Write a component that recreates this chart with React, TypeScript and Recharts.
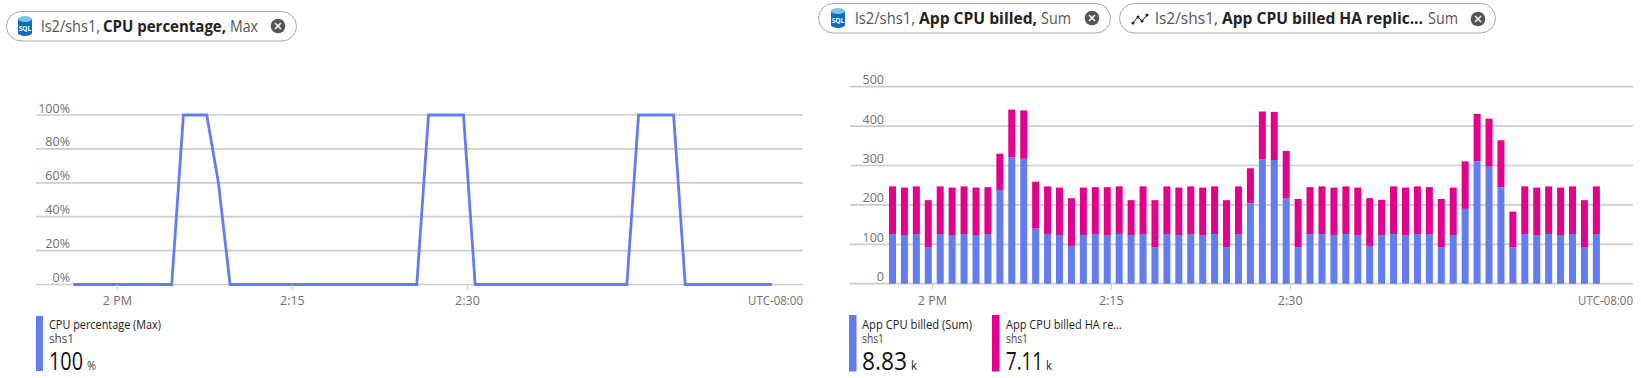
import React from "react";
import { LineChart, Line, BarChart, Bar, XAxis, YAxis, CartesianGrid } from "recharts";

const FONT = "'Open Sans', 'Noto Sans', sans-serif";
const BLUE = "#637cef";
const PINK = "#e3008c";
const GRID = "#cccccc";
const TICK = "#6f6f6f";

// minutes relative to 2 PM
const cpuMinutes = [-3.77, 4.66, 5.66, 7.66, 8.66, 9.66, 25.66, 26.66, 29.66, 30.66, 43.66, 44.66, 47.66, 48.66, 56.07];
const cpuValues = [0, 0, 100, 100, 60, 0, 0, 100, 100, 0, 0, 100, 100, 0, 0];
const cpuTicks = [0, 20, 40, 60, 80, 100];

const billedTicks = [0, 100, 200, 300, 400, 500];
const timeTicks = [0, 15, 30];
const timeLabels = ["2 PM", "2:15", "2:30"];

const billedMinutes = [
  -3.3, -2.3, -1.3, -0.3, 0.7, 1.7, 2.7, 3.7, 4.7, 5.7, 6.7, 7.7, 8.7, 9.7, 10.7, 11.7, 12.7, 13.7, 14.7, 15.7,
  16.7, 17.7, 18.7, 19.7, 20.7, 21.7, 22.7, 23.7, 24.7, 25.7, 26.7, 27.7, 28.7, 29.7, 30.7, 31.7, 32.7, 33.7, 34.7, 35.7,
  36.7, 37.7, 38.7, 39.7, 40.7, 41.7, 42.7, 43.7, 44.7, 45.7, 46.7, 47.7, 48.7, 49.7, 50.7, 51.7, 52.7, 53.7, 54.7, 55.7,
];
const billedBlue = [
  126, 123.5, 126, 93, 126, 123.5, 126, 123.5, 126, 238, 321, 317, 140, 126, 123.5, 96, 123.5, 126, 123.5, 126,
  123.5, 126, 93, 126, 123.5, 126, 123.5, 126, 93, 126, 204, 316, 314, 217, 93, 126, 126, 123.5, 126, 123.5,
  96, 123.5, 126, 123.5, 126, 126, 93, 123.5, 190, 310.5, 297, 244.5, 93, 126, 123.5, 126, 123.5, 126, 93, 126,
];
const billedTotal = [
  247, 244, 247, 212, 247, 244, 247, 244, 245, 330, 442, 440, 259, 247, 244, 217, 244, 245, 245, 247,
  212, 247, 212, 247, 244, 247, 244, 247, 212, 247, 293, 437, 436, 337, 215, 245, 247, 244, 247, 244,
  217, 213, 247, 244, 247, 245, 215, 244, 310.5, 431, 419, 364, 183, 247, 244, 247, 244, 247, 212, 247,
];
const billedPink = billedTotal.map((t, i) => t - billedBlue[i]);

const cpuData = cpuMinutes.map((t, i) => ({ t, cpu: cpuValues[i] }));
const billedData = billedMinutes.map((t, i) => ({ t, blue: billedBlue[i], pink: billedPink[i] }));

const yTick = (labelRight: number, suffix: string) => (p: any) => (
  <text x={labelRight} y={p.y - 7} dy={4.5} textAnchor="end" fontSize={12.5} fontFamily={FONT} fill={TICK}>
    {p.payload.value}{suffix}
  </text>
);
const xTick = (p: any) => (
  <text x={p.x} y={300.5} dy={4.5} textAnchor="middle" fontSize={12.5} fontFamily={FONT} fill={TICK}>
    {timeLabels[timeTicks.indexOf(p.payload.value)]}
  </text>
);

const T = ({ x, y, w, size = 12, weight = 400, fill = "#222", children }: any) => (
  <text x={x} y={y} textLength={w} lengthAdjust="spacingAndGlyphs" fontSize={size} fontWeight={weight} fill={fill} fontFamily={FONT}>
    {children}
  </text>
);

const SqlIcon = ({ cx, cy }: any) => (
  <g>
    <path d={`M${cx - 7} ${cy - 7} V${cy + 7} A7 3 0 0 0 ${cx + 7} ${cy + 7} V${cy - 7} Z`} fill="#0f6cbd" />
    <ellipse cx={cx} cy={cy - 7} rx={7} ry={3} fill="#7cc4ee" />
    <text x={cx} y={cy + 4.5} textAnchor="middle" fontSize={6.5} fontWeight={700} fill="#fff" fontFamily={FONT}>SQL</text>
  </g>
);
const MetricIcon = ({ cx, cy }: any) => (
  <g>
    <polyline points={`${cx - 7},${cy + 4} ${cx - 2},${cy - 2} ${cx + 2},${cy + 2} ${cx + 7},${cy - 4}`} fill="none" stroke="#222" strokeWidth={1} />
    {[[-7, 4], [-2, -2], [2, 2], [7, -4]].map(([dx, dy], i) => (
      <circle key={i} cx={cx + dx} cy={cy + dy} r={1.5} fill="#222" />
    ))}
  </g>
);
const Close = ({ cx, cy }: any) => (
  <g>
    <circle cx={cx} cy={cy} r={7.3} fill="#555" />
    <path d={`M${cx - 3} ${cy - 3} L${cx + 3} ${cy + 3} M${cx + 3} ${cy - 3} L${cx - 3} ${cy + 3}`} stroke="#fff" strokeWidth={1.5} />
  </g>
);
const Pill = ({ x, y, w, h }: any) => (
  <rect x={x + 0.5} y={y + 0.5} width={w} height={h} rx={h / 2} fill="#fff" stroke="#a8a8a8" strokeWidth={1} />
);

const Overlay = () => (
  <svg width={1641} height={378} style={{ position: "absolute", left: 0, top: 0, pointerEvents: "none" }}>
    <Pill x={6} y={11} w={290} h={29.5} />
    <SqlIcon cx={25} cy={26} />
    <T x={41} y={32} w={59} size={16} fill="#555">ls2/shs1,</T>
    <T x={103} y={32} w={123} size={16} weight={700}>CPU percentage,</T>
    <T x={230} y={32} w={28} size={16} fill="#555">Max</T>
    <Close cx={278} cy={26} />

    <Pill x={818} y={3} w={292} h={29.5} />
    <SqlIcon cx={838} cy={18} />
    <T x={855} y={24} w={60} size={16} fill="#555">ls2/shs1,</T>
    <T x={919} y={24} w={118} size={16} weight={700}>App CPU billed,</T>
    <T x={1041} y={24} w={30} size={16} fill="#555">Sum</T>
    <Close cx={1092} cy={18} />

    <Pill x={1119} y={3} w={376} h={29.5} />
    <MetricIcon cx={1140} cy={19} />
    <T x={1155} y={24} w={63} size={16} fill="#555">ls2/shs1,</T>
    <T x={1222} y={24} w={201} size={16} weight={700}>App CPU billed HA replic...</T>
    <T x={1428} y={24} w={30} size={16} fill="#555">Sum</T>
    <Close cx={1478} cy={19} />

    <T x={748} y={305} w={55} size={12.5} fill={TICK}>UTC-08:00</T>
    <T x={1578} y={305} w={55} size={12.5} fill={TICK}>UTC-08:00</T>

    <rect x={36} y={316} width={7} height={55} fill={BLUE} />
    <T x={49} y={329} w={112} size={12}>CPU percentage (Max)</T>
    <T x={49} y={343} w={25} size={12} fill="#444">shs1</T>
    <T x={49} y={370} w={34} size={26} fill="#111">100</T>
    <T x={87} y={370} w={9} size={12} fill="#444">%</T>

    <rect x={849} y={315} width={7.5} height={56.5} fill={BLUE} />
    <T x={862} y={329} w={110} size={12}>App CPU billed (Sum)</T>
    <T x={862} y={343} w={22} size={12} fill="#444">shs1</T>
    <T x={862} y={370} w={45} size={26} fill="#111">8.83</T>
    <T x={911} y={370} w={6} size={12}>k</T>

    <rect x={992} y={315} width={7.5} height={56.5} fill={PINK} />
    <T x={1006} y={329} w={116} size={12}>App CPU billed HA re...</T>
    <T x={1006} y={343} w={22} size={12} fill="#444">shs1</T>
    <T x={1006} y={370} w={37} size={26} fill="#111">7.11</T>
    <T x={1046} y={370} w={6} size={12}>k</T>
  </svg>
);

export default function App() {
  return (
    <div style={{ position: "absolute", left: 0, top: 0, width: 1641, height: 378, overflow: "hidden", background: "#fff" }}>
      <div style={{ position: "absolute", left: 0, top: 0 }}>
        <LineChart width={803} height={378} data={cpuData} margin={{ top: 115, right: 0, bottom: 0, left: 0 }}>
          <CartesianGrid horizontal vertical={false} stroke={GRID} strokeWidth={1.7} />
          <XAxis dataKey="t" type="number" domain={[-6.97, 58.75]} ticks={timeTicks} height={93.5} axisLine={false} tickSize={6} tickLine={{ stroke: GRID }} tick={xTick} interval={0} allowDataOverflow />
          <YAxis domain={[0, 100]} ticks={cpuTicks} width={36} axisLine={false} tickLine={false} tick={yTick(70, "%")} interval={0} />
          <Line dataKey="cpu" stroke={BLUE} strokeWidth={2.8} dot={false} type="linear" isAnimationActive={false} />
        </LineChart>
      </div>
      <div style={{ position: "absolute", left: 800, top: 0 }}>
        <BarChart width={833} height={378} data={billedData} barSize={7} margin={{ top: 86.7, right: 0, bottom: 0, left: 0 }}>
          <CartesianGrid horizontal vertical={false} stroke={GRID} strokeWidth={1.7} />
          <XAxis dataKey="t" type="number" domain={[-6.9, 58.73]} ticks={timeTicks} height={94.3} axisLine={false} tickSize={6} tickLine={{ stroke: GRID }} tick={xTick} interval={0} allowDataOverflow />
          <YAxis domain={[0, 500]} ticks={billedTicks} width={50} axisLine={false} tickLine={false} tick={yTick(84, "")} interval={0} />
          <Bar dataKey="blue" stackId="a" fill={BLUE} isAnimationActive={false} />
          <Bar dataKey="pink" stackId="a" fill={PINK} isAnimationActive={false} />
        </BarChart>
      </div>
      <Overlay />
    </div>
  );
}
